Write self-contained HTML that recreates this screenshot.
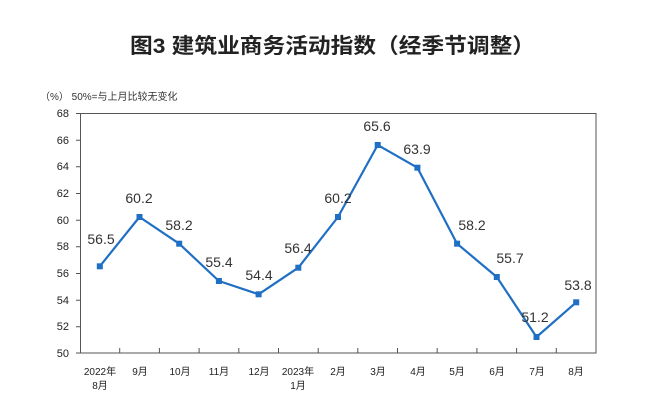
<!DOCTYPE html>
<html><head><meta charset="utf-8"><style>
html,body{margin:0;padding:0;background:#fff;}
svg{display:block;font-family:"Liberation Sans","Noto Sans CJK SC",sans-serif;}
</style></head><body>
<svg width="660" height="419" viewBox="0 0 660 419" xmlns="http://www.w3.org/2000/svg">
<rect width="660" height="419" fill="#fff"/>
<text x="130" y="53" font-size="21" font-weight="bold" fill="#222" textLength="405" lengthAdjust="spacingAndGlyphs">图3  建筑业商务活动指数（经季节调整）</text>
<text x="40" y="100" font-size="10" fill="#333">（%）  50%=与上月比较无变化</text>
<g font-size="11" fill="#222" text-anchor="end">
<text x="69" y="117">68</text><text x="69" y="144">66</text><text x="69" y="170">64</text>
<text x="69" y="197">62</text><text x="69" y="224">60</text><text x="69" y="250">58</text>
<text x="69" y="277">56</text><text x="69" y="304">54</text><text x="69" y="330">52</text>
<text x="69" y="357">50</text>
</g>
<g stroke="#555" stroke-width="1" fill="none">
<rect x="80.5" y="113.5" width="515.5" height="239.5"/>
<path d="M76 113.5h4M76 140.2h4M76 166.8h4M76 193.5h4M76 220.2h4M76 246.8h4M76 273.5h4M76 300.2h4M76 326.8h4M76 353h4"/>
<path d="M119.7 353v-5M159.4 353v-5M199.1 353v-5M238.8 353v-5M278.5 353v-5M318.2 353v-5M357.8 353v-5M397.5 353v-5M437.2 353v-5M476.9 353v-5M516.6 353v-5M556.3 353v-5"/>
</g>
<polyline fill="none" stroke="#1f6fc5" stroke-width="2.2" stroke-linejoin="round" points="99.8,266.3 139.5,217 179.2,243.7 218.9,281 258.6,294.3 298.3,267.7 338,217 377.7,145 417.4,167.7 457.1,243.7 496.8,277 536.5,337 576.2,302.3"/>
<g fill="#1f6fc5">
<rect x="96.8" y="263.3" width="6" height="6"/><rect x="136.5" y="214" width="6" height="6"/>
<rect x="176.2" y="240.7" width="6" height="6"/><rect x="215.9" y="278" width="6" height="6"/>
<rect x="255.6" y="291.3" width="6" height="6"/><rect x="295.3" y="264.7" width="6" height="6"/>
<rect x="335" y="214" width="6" height="6"/><rect x="374.7" y="142" width="6" height="6"/>
<rect x="414.4" y="164.7" width="6" height="6"/><rect x="454.1" y="240.7" width="6" height="6"/>
<rect x="493.8" y="274" width="6" height="6"/><rect x="533.5" y="334" width="6" height="6"/>
<rect x="573.2" y="299.3" width="6" height="6"/>
</g>
<g font-size="14" fill="#333" text-anchor="middle">
<text x="101" y="244">56.5</text><text x="139" y="203">60.2</text>
<text x="179" y="230">58.2</text><text x="219" y="267">55.4</text>
<text x="259" y="280">54.4</text><text x="298" y="253">56.4</text>
<text x="338" y="203">60.2</text><text x="377" y="131">65.6</text>
<text x="417" y="154">63.9</text><text x="472" y="230">58.2</text>
<text x="510" y="263">55.7</text><text x="535" y="322">51.2</text>
<text x="578" y="290">53.8</text>
</g>
<g font-size="10" fill="#222" text-anchor="middle">
<text x="100" y="375">2022年</text><text x="100" y="389">8月</text>
<text x="140" y="375">9月</text><text x="180" y="375">10月</text>
<text x="219" y="375">11月</text><text x="259" y="375">12月</text>
<text x="298" y="375">2023年</text><text x="298" y="389">1月</text>
<text x="338" y="375">2月</text><text x="378" y="375">3月</text>
<text x="418" y="375">4月</text><text x="457" y="375">5月</text>
<text x="497" y="375">6月</text><text x="537" y="375">7月</text>
<text x="576" y="375">8月</text>
</g>
</svg>
</body></html>
